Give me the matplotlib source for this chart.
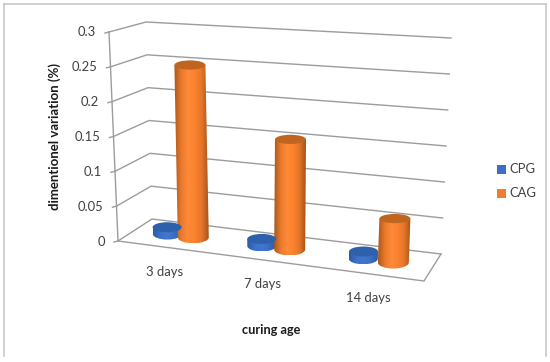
import numpy as np
import matplotlib
matplotlib.use('Agg')
import matplotlib.pyplot as plt
from matplotlib.path import Path
from matplotlib.patches import PathPatch, Ellipse, Rectangle
from matplotlib.colors import LinearSegmentedColormap

categories = ['3 days', '7 days', '14 days']
cpg = [0.01, 0.01, 0.01]
cag = [0.25, 0.155, 0.06]
yticks = [0, 0.05, 0.1, 0.15, 0.2, 0.25, 0.3]
ytick_labels = ['0', '0.05', '0.1', '0.15', '0.2', '0.25', '0.3']
ymax = 0.3

plt.rcParams['font.family'] = ['Lato', 'DejaVu Sans']
GREY = '#9c9c9c'
TEXT = '#404040'

# corners of the 3d box in pixels: (front/back, left/right, floor/top)
FL0, FL1 = np.array([118, 241.]), np.array([109, 32.])
BL0, BL1 = np.array([152, 219.]), np.array([146, 22.])
FR0, FR1 = np.array([424, 281.]), np.array([434, 52.])
BR0, BR1 = np.array([441, 254.]), np.array([451, 38.])


def warp(u):  # perspective along the category axis
    return u / (u + 1.115 * (1 - u))


def proj(u, v, val):
    w = val / ymax
    fl = FL0 + (FL1 - FL0) * w
    bl = BL0 + (BL1 - BL0) * w
    fr = FR0 + (FR1 - FR0) * w
    br = BR0 + (BR1 - BR0) * w
    left = fl + (bl - fl) * v
    right = fr + (br - fr) * v
    return left + (right - left) * u


def cylinder(ax, cx, val, rx, colors, cap, bot_ry=6.0, top_ry=4.6):
    top = proj(cx, 0.5, val)
    bot = proj(cx, 0.5, 0)
    k = 0.5523
    verts = [
        (top[0] - rx, top[1]),
        (bot[0] - rx, bot[1]),
        (bot[0] - rx, bot[1] + k * bot_ry), (bot[0] - k * rx, bot[1] + bot_ry), (bot[0], bot[1] + bot_ry),
        (bot[0] + k * rx, bot[1] + bot_ry), (bot[0] + rx, bot[1] + k * bot_ry), (bot[0] + rx, bot[1]),
        (top[0] + rx, top[1]),
        (top[0] - rx, top[1]),
    ]
    codes = [Path.MOVETO, Path.LINETO, Path.CURVE4, Path.CURVE4, Path.CURVE4,
             Path.CURVE4, Path.CURVE4, Path.CURVE4, Path.LINETO, Path.CLOSEPOLY]
    patch = PathPatch(Path(verts, codes), fc='none', ec='none', transform=ax.transData)
    ax.add_patch(patch)
    cmap = LinearSegmentedColormap.from_list('c', colors)
    grad = np.linspace(0, 1, 64).reshape(1, -1)
    x0 = min(top[0], bot[0]) - rx
    x1 = max(top[0], bot[0]) + rx
    im = ax.imshow(grad, cmap=cmap, extent=(x0, x1, bot[1] + bot_ry, top[1]),
                   aspect='auto', interpolation='bilinear', zorder=3)
    im.set_clip_path(patch)
    ax.add_patch(Ellipse(top, 2 * rx, 2 * top_ry, fc=cap, ec='none', zorder=3.1))


fig = plt.figure(figsize=(5.5, 3.62), dpi=100)
ax = fig.add_axes([0, 0, 1, 1])

# outer chart frame, no bottom edge in the crop
ax.plot([4, 4], [356, 4], color='#c4c4c4', lw=1.1)
ax.plot([4, 546], [4, 4], color='#c4c4c4', lw=1.1)
ax.plot([546, 546], [4, 356], color='#c4c4c4', lw=1.1)

# gridlines on the walls
for t, lab in zip(yticks, ytick_labels):
    a = proj(0, 0, t)
    b = proj(0, 1, t)
    c = proj(1, 1, t)
    ax.plot([a[0], b[0], c[0]], [a[1], b[1], c[1]], color=GREY, lw=1.0, zorder=1)
    ax.plot([a[0] - 4, a[0]], [a[1] + 1, a[1]], color=GREY, lw=1.0, zorder=1)
    ax.text(a[0] - 13, a[1] + 0.5, lab, ha='right', va='center', fontsize=9.4, color=TEXT)

# front axis and floor edges
p = [proj(0, 0, 0), proj(0, 0, ymax)]
ax.plot([p[0][0], p[1][0]], [p[0][1], p[1][1]], color=GREY, lw=1.0, zorder=1)
p = [proj(0, 0, 0), proj(1, 0, 0), proj(1, 1, 0)]
ax.plot([q[0] for q in p], [q[1] for q in p], color=GREY, lw=1.0, zorder=1)

orange = ['#a9581c', '#e9792c', '#ff8a38', '#fb822f', '#e57529', '#a4541a']
blue = ['#2c5ba8', '#3a70c8', '#4078d0', '#386cc0', '#2a5aa4']

for i, name in enumerate(categories):
    c = (i + 0.5) / len(categories)
    cylinder(ax, warp(c - 0.047), cpg[i], 14.5, blue, '#2f60ac', bot_ry=5.5, top_ry=5.0)
    cylinder(ax, warp(c + 0.047), cag[i], 15.5, orange, '#c0651f')
    pos = proj(warp(c), 0, 0)
    ax.text(pos[0], pos[1] + 24.5, name, ha='center', va='center', fontsize=9.4, color=TEXT)

ax.text(55, 136, 'dimentionel variation (%)', rotation=90, ha='center', va='center',
        fontsize=9.5, fontweight='bold', color='#1a1a1a')
ax.text(271, 330, 'curing age', ha='center', va='center', fontsize=9.2,
        fontweight='bold', color='#1a1a1a')

# legend
for y, name, col in [(169, 'CPG', '#3a6fc4'), (193, 'CAG', '#ee7d31')]:
    ax.add_patch(Rectangle((497, y - 4), 8.5, 8.5, fc=col, ec='none'))
    ax.text(509, y, name, ha='left', va='center', fontsize=9.4, color=TEXT)

ax.set_xlim(0, 550)
ax.set_ylim(362, 0)
ax.axis('off')
fig.savefig('out.png', dpi=100)
